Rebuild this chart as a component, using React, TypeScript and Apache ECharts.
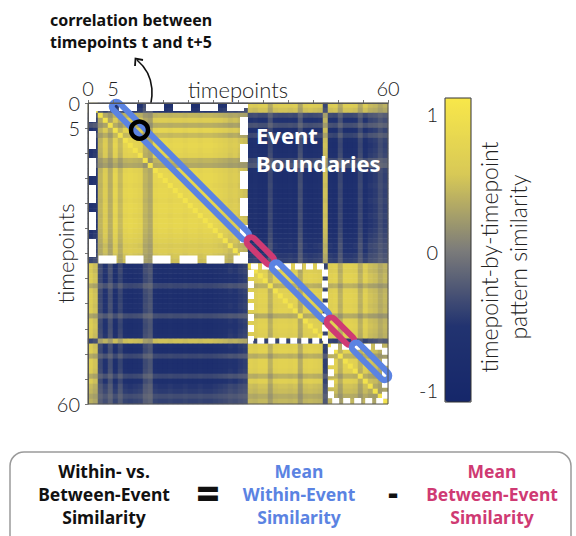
import React, { useEffect, useRef } from 'react';
import * as echarts from 'echarts';

// ---------- data ----------
const timepoints: string[] = Array.from({ length: 60 }, (_, i) => String(i));
// event spans (first and last timepoint of each event)
const events: [number, number][] = [
  [0, 31],
  [32, 47],
  [48, 59],
];
// per-timepoint pattern loading read from the stripes of the matrix
const loadings: number[] = [
  -0.75, -0.6, 0.45, 0.7, 0.4, 0.85, 0.5, 0.85, 0.9, 0.85,
  0.8, 0.45, 0.35, 0.85, 0.9, 0.9, 0.85, 0.9, 0.9, 0.85,
  0.9, 0.9, 0.85, 0.9, 0.9, 0.85, 0.8, 0.75, 0.65, 0.7,
  0.6, 0.55, -0.8, -0.75, -0.85, -0.85, -0.45, -0.8, -0.85, -0.85,
  -0.8, -0.85, -0.4, -0.8, -0.85, -0.8, -0.75, 0.55, -0.8, -0.85,
  -0.45, -0.85, -0.85, -0.8, -0.45, -0.8, -0.6, -0.55, -0.4, -0.5,
];
const lag = 5;
const axisTickLabels = ['0', '5', '60'];
const colorbarTicks = [1, 0, -1];
const highlightedPair: [number, number] = [10.3, 5.4];
const annotationLines = ['correlation between', 'timepoints t and t+5'];
const boundaryLines = ['Event', 'Boundaries'];
const colorbarTitle = ['timepoint-by-timepoint', 'pattern similarity'];
const formulaLeft = ['Within- vs.', 'Between-Event', 'Similarity'];
const formulaWithin = ['Mean', 'Within-Event', 'Similarity'];
const formulaBetween = ['Mean', 'Between-Event', 'Similarity'];

// ---------- derived ----------
const heatData: number[][] = [];
for (let i = 0; i < 60; i++) {
  for (let j = 0; j < 60; j++) {
    const v = i === j ? 1 : Math.max(-1, Math.min(1, loadings[i] * loadings[j]));
    heatData.push([j, i, v]);
  }
}
const eventOf = (t: number) => events.findIndex(([s, e]) => t >= s && t <= e);
// runs of (t, t+lag) pairs: kind 0 within-event, 1 between-event
const segments: number[][] = [];
for (let t = 0; t + lag < 60; t++) {
  const kind = eventOf(t) === eventOf(t + lag) ? 0 : 1;
  const last = segments[segments.length - 1];
  if (last && last[2] === kind) last[1] = t;
  else segments.push([t, t, kind]);
}

const BLUE = '#5b83e2';
const PINK = '#cf3a73';
const LIGHT = 'Lato, "Open Sans", sans-serif';
const BOLD = '"Noto Sans", "Open Sans", sans-serif';

const VM_MIN = -1.1;
const VM_MAX = 1.1;
const CB_LEFT = 445;
const CB_TOP = 98;
const CB_W = 26;
const CB_H = 304;

export default function App() {
  const ref = useRef<HTMLDivElement>(null);
  useEffect(() => {
    if (!ref.current) return;
    const chart = echarts.init(ref.current, undefined, { renderer: 'svg' });

    const stackText = (lines: string[], cx: number, y0: number, dy: number, color: string, size: number) =>
      lines.map((t, k) => ({
        type: 'text',
        x: cx,
        y: y0 + k * dy,
        style: { text: t, fill: color, font: `bold ${size}px ${BOLD}`, align: 'center', verticalAlign: 'middle' },
      }));

    const cbY = (v: number) => CB_TOP + ((VM_MAX - v) / (VM_MAX - VM_MIN)) * CB_H;
    const tickFmt = (v: number) => (axisTickLabels.includes(String(v)) ? String(v) : '');

    const option: any = {
      animation: false,
      grid: { left: 88, top: 103, width: 300, height: 301 },
      xAxis: [
        { type: 'category', data: timepoints, show: false },
        {
          type: 'value', min: 0, max: 60, interval: 5, position: 'top', z: 5,
          name: 'timepoints', nameLocation: 'middle', nameGap: 3, nameMoveOverlap: false,
          nameTextStyle: { fontFamily: LIGHT, fontWeight: 300, fontSize: 22, color: '#222', verticalAlign: 'bottom' },
          axisLine: { show: true, lineStyle: { color: '#555', width: 1 } },
          axisTick: { show: true, length: 3, lineStyle: { color: '#777' } },
          axisLabel: { margin: 5, fontFamily: LIGHT, fontWeight: 300, fontSize: 20, color: '#222', formatter: tickFmt },
          splitLine: { show: false },
        },
      ],
      yAxis: [
        { type: 'category', data: timepoints, inverse: true, show: false },
        {
          type: 'value', min: 0, max: 60, interval: 5, inverse: true, position: 'left', z: 5,
          name: 'timepoints', nameLocation: 'middle', nameGap: 12, nameRotate: 90, nameMoveOverlap: false,
          nameTextStyle: { fontFamily: LIGHT, fontWeight: 300, fontSize: 22, color: '#222' },
          axisLine: { show: true, lineStyle: { color: '#555', width: 1 } },
          axisTick: { show: true, length: 3, lineStyle: { color: '#777' } },
          axisLabel: { margin: 8, fontFamily: LIGHT, fontWeight: 300, fontSize: 20, color: '#222', formatter: tickFmt },
          splitLine: { show: false },
        },
      ],
      visualMap: {
        type: 'continuous', min: VM_MIN, max: VM_MAX, calculable: false, show: true,
        seriesIndex: 0, orient: 'vertical', left: CB_LEFT - 5, top: CB_TOP - 5, padding: 5,
        itemWidth: CB_W, itemHeight: CB_H, text: null, hoverLink: false,
        inRange: { color: ['#15276a', '#223370', '#7c7c7a', '#d8c956', '#f8e74a'] },
      },
      series: [
        {
          type: 'heatmap', xAxisIndex: 0, yAxisIndex: 0, data: heatData,
          itemStyle: { borderWidth: 0 }, emphasis: { disabled: true },
        },
        {
          type: 'custom', xAxisIndex: 1, yAxisIndex: 1, z: 3, silent: true,
          data: events,
          renderItem: (params: any, api: any) => {
            const s = api.value(0);
            const e = api.value(1);
            const big = params.dataIndex === 0;
            const lw = big ? 8 : 6;
            const p0 = api.coord([s, s]);
            const p1 = api.coord([e + 1, e + 1]);
            const h = lw / 2;
            return {
              type: 'rect',
              shape: { x: p0[0] + h, y: p0[1] + h, width: p1[0] - p0[0] - 2 * h, height: p1[1] - p0[1] - 2 * h },
              style: { fill: 'none', stroke: '#ffffff', lineWidth: lw, lineDash: big ? [18, 9] : [7, 4] },
            };
          },
        },
        {
          type: 'custom', xAxisIndex: 1, yAxisIndex: 1, z: 4, silent: true,
          data: segments,
          renderItem: (params: any, api: any) => {
            const t0 = api.value(0);
            const t1 = api.value(1);
            const kind = api.value(2);
            const a = api.coord([t0 + lag + 0.5, t0 + 0.5]);
            const b = api.coord([t1 + lag + 0.5, t1 + 0.5]);
            const dx = b[0] - a[0];
            const dy = b[1] - a[1];
            const len = Math.hypot(dx, dy);
            const hh = 9;
            const ext = 3.5;
            return {
              type: 'rect',
              x: (a[0] + b[0]) / 2,
              y: (a[1] + b[1]) / 2,
              rotation: -Math.atan2(dy, dx),
              shape: { x: -(len / 2 + ext), y: -hh / 2, width: len + 2 * ext, height: hh, r: hh / 2 },
              style: { fill: 'none', stroke: kind === 0 ? BLUE : PINK, lineWidth: 6 },
            };
          },
        },
        {
          type: 'custom', xAxisIndex: 1, yAxisIndex: 1, z: 6, silent: true,
          data: [highlightedPair],
          renderItem: (params: any, api: any) => {
            const c = api.coord([api.value(0), api.value(1)]);
            const p0 = api.coord([0, 0]);
            const p1 = api.coord([60, 60]);
            return {
              type: 'group',
              children: [
                {
                  type: 'rect',
                  shape: { x: p0[0], y: p0[1], width: p1[0] - p0[0], height: p1[1] - p0[1] },
                  style: { fill: 'none', stroke: '#555', lineWidth: 1 },
                },
                {
                  type: 'circle',
                  shape: { cx: c[0], cy: c[1], r: 8.5 },
                  style: { fill: 'none', stroke: '#000', lineWidth: 4.5 },
                },
              ],
            };
          },
        },
      ],
      graphic: [
        ...annotationLines.map((t, k) => ({
          type: 'text', x: 50, y: 20 + k * 22,
          style: { text: t, fill: '#111', font: `bold 16px ${BOLD}`, align: 'left', verticalAlign: 'middle' },
        })),
        {
          type: 'bezierCurve',
          shape: { x1: 145, y1: 120, cpx1: 155, cpy1: 100, cpx2: 156, cpy2: 76, x2: 137, y2: 60 },
          style: { stroke: '#111', lineWidth: 1.6, fill: 'none' },
        },
        {
          type: 'polyline',
          shape: { points: [[135, 66], [135.5, 58.5], [143, 60]] },
          style: { stroke: '#111', lineWidth: 1.8, fill: 'none' },
        },
        ...boundaryLines.map((t, k) => ({
          type: 'text', x: 256, y: 135 + k * 28, z: 10,
          style: { text: t, fill: '#ffffff', font: `bold 22px ${BOLD}`, align: 'left', verticalAlign: 'middle' },
        })),
        {
          type: 'rect', z: 10,
          shape: { x: CB_LEFT, y: CB_TOP, width: CB_W, height: CB_H },
          style: { fill: 'none', stroke: '#333', lineWidth: 1 },
        },
        ...colorbarTicks.map((v) => ({
          type: 'text', x: 438, y: cbY(v) + 2,
          style: { text: String(v), fill: '#222', font: `300 20px ${LIGHT}`, align: 'right', verticalAlign: 'middle' },
        })),
        {
          type: 'text', x: 503, y: 257, rotation: Math.PI / 2,
          style: {
            text: colorbarTitle.join('\n'), fill: '#222', font: `300 23px ${LIGHT}`,
            align: 'center', verticalAlign: 'middle', lineHeight: 29,
          },
        },
        {
          type: 'rect',
          shape: { x: 10, y: 452, width: 561, height: 110, r: 14 },
          style: { fill: 'none', stroke: '#9a9a9a', lineWidth: 1.5 },
        },
        ...stackText(formulaLeft, 104, 471, 23, '#111', 17.5),
        {
          type: 'text', x: 208, y: 492,
          style: { text: '=', fill: '#111', font: `900 40px ${BOLD}`, align: 'center', verticalAlign: 'middle' },
        },
        ...stackText(formulaWithin, 299, 471, 23, BLUE, 17.5),
        {
          type: 'text', x: 393, y: 492,
          style: { text: '-', fill: '#111', font: `900 30px ${BOLD}`, align: 'center', verticalAlign: 'middle' },
        },
        ...stackText(formulaBetween, 492, 471, 23, PINK, 17.5),
      ],
    };
    chart.setOption(option);
    return () => chart.dispose();
  }, []);
  return (
    <div
      ref={ref}
      style={{ position: 'fixed', left: 0, top: 0, width: 576, height: 536, background: '#ffffff' }}
    />
  );
}
